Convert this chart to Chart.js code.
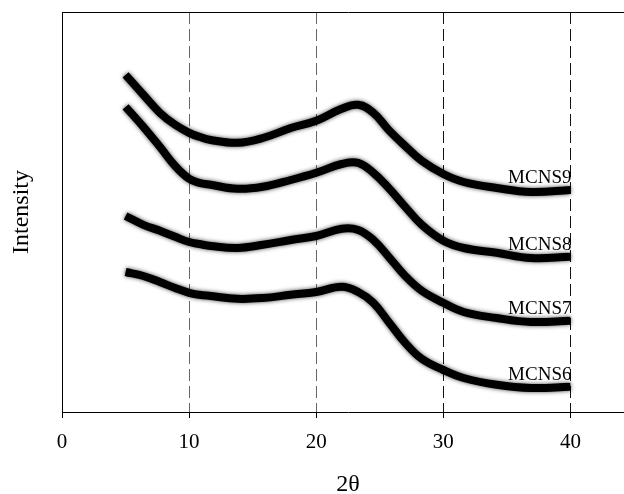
<!DOCTYPE html>
<html>
<head>
<meta charset="utf-8">
<script src="https://cdn.jsdelivr.net/npm/chart.js@4.4.1/dist/chart.umd.min.js"></script>
<style>
  html, body { margin: 0; padding: 0; background: #fff; overflow: hidden; }
  #wrap { position: relative; width: 634px; height: 494px; }
</style>
</head>
<body>
<div id="wrap"><canvas id="xrd"></canvas></div>
<script>
const twoTheta = [5, 6.4, 7.7, 8.9, 10, 10.8, 11.7, 13.8, 15.8, 18, 20, 22, 23.3, 24.5, 25.7, 27, 28.3, 30, 31.6, 34.2, 36.9, 40];

// stacked intensities (arbitrary units, offset per sample)
const mcns9 = [84.3, 79.3, 74.8, 71.8, 69.8, 68.8, 68, 67.3, 68.5, 71, 72.8, 75.8, 76.8, 74.8, 70.5, 66.5, 62.8, 59.5, 57.5, 56, 55, 55.5];
const mcns8 = [76.3, 71.3, 66.3, 61.5, 58.3, 57.3, 56.8, 55.8, 56.3, 58, 59.8, 62, 62.3, 59.8, 56, 51.3, 46.8, 42.8, 41, 39.8, 38.5, 38.8];
const mcns7 = [49, 46.8, 45.3, 43.8, 42.5, 42, 41.5, 41, 41.8, 43, 44, 45.8, 45.5, 43, 38.8, 34, 30.3, 27.3, 25, 23.5, 22.5, 22.8];
const mcns6 = [35, 34, 32.5, 31, 29.8, 29.3, 29, 28.3, 28.5, 29.3, 30, 31.3, 30, 27.3, 22.5, 17.3, 13.3, 10.5, 8.5, 6.8, 6, 6.3];

const sampleNames = ['MCNS9', 'MCNS8', 'MCNS7', 'MCNS6'];
const sampleValues = [mcns9, mcns8, mcns7, mcns6];

const serif = '"Liberation Serif", "Times New Roman", serif';

const toPoints = vals => twoTheta.map((t, i) => ({ x: t, y: vals[i] }));

// soft fringe round the traces, a stand-in for the detector noise
const fuzzyTraces = {
  id: 'fuzzyTraces',
  beforeDatasetsDraw(chart) {
    const ctx = chart.ctx;
    ctx.save();
    ctx.shadowColor = 'rgba(0,0,0,0.7)';
    ctx.shadowBlur = 4;
  },
  afterDatasetsDraw(chart) {
    chart.ctx.restore();
  }
};

// writes the sample name just above the end of each curve
const curveLabels = {
  id: 'curveLabels',
  afterDatasetsDraw(chart) {
    const { ctx, scales: { x, y } } = chart;
    ctx.save();
    ctx.font = '19px ' + serif;
    ctx.fillStyle = '#000';
    ctx.textAlign = 'right';
    ctx.textBaseline = 'middle';
    chart.data.datasets.forEach(ds => {
      const last = ds.data[ds.data.length - 1];
      ctx.fillText(ds.label, x.getPixelForValue(last.x) + 1, y.getPixelForValue(last.y) - 12);
    });
    ctx.restore();
  }
};

const data = {
  datasets: sampleNames.map((name, i) => ({
    label: name,
    data: toPoints(sampleValues[i]),
    xAxisID: 'x',
    yAxisID: 'y',
    borderColor: '#000',
    borderWidth: 8,
    borderCapStyle: 'butt',
    borderJoinStyle: 'round',
    pointRadius: 0,
    tension: 0.4,
    fill: false
  }))
};

const config = {
  type: 'line',
  data: data,
  options: {
    responsive: true,
    maintainAspectRatio: false,
    animation: false,
    layout: { padding: { top: 12, left: 0, right: 0, bottom: 0 } },
    plugins: {
      legend: { display: false },
      tooltip: { enabled: false }
    },
    scales: {
      x: {
        type: 'linear',
        position: 'bottom',
        min: 0,
        max: 45,
        afterFit: s => { s.height = 82; },
        ticks: {
          stepSize: 10,
          includeBounds: false,
          color: '#000',
          padding: 12,
          font: { family: serif, size: 21 },
          maxRotation: 0
        },
        grid: {
          color: c => c.tick && c.tick.value === 0 ? 'rgba(0,0,0,0)' : (c.tick && c.tick.value >= 30 ? '#111' : '#666'),
          lineWidth: 1,
          tickColor: '#000',
          tickLength: 6,
          tickBorderDash: []
        },
        border: { display: true, color: '#000', width: 1, dash: [12, 5] },
        title: {
          display: true,
          text: '2θ',
          color: '#000',
          font: { family: serif, size: 24, lineHeight: 1 },
          padding: { top: 0, bottom: -3 }
        }
      },
      xTop: {
        type: 'linear',
        position: 'top',
        min: 0,
        max: 45,
        afterFit: s => { s.height = 0; },
        ticks: { display: false },
        grid: { display: false },
        border: { display: true, color: '#000', width: 1 }
      },
      y: {
        type: 'linear',
        min: 0,
        max: 100,
        afterFit: s => { s.width = 62; },
        ticks: { display: false },
        grid: { display: false },
        border: { display: true, color: '#000', width: 1 },
        title: {
          display: true,
          text: 'Intensity',
          color: '#000',
          font: { family: serif, size: 24, lineHeight: 1 },
          padding: { top: 10, bottom: 0 }
        }
      }
    }
  },
  plugins: [fuzzyTraces, curveLabels]
};

const xrdChart = new Chart(document.getElementById('xrd'), config);
</script>
</body>
</html>
